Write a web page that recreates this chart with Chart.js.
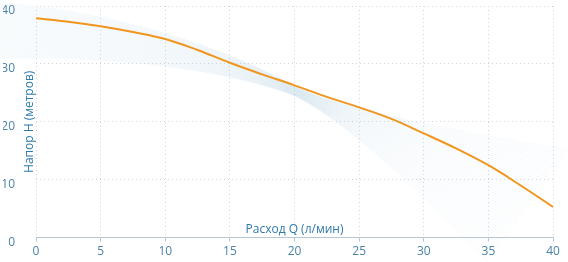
<!DOCTYPE html>
<html>
<head>
<meta charset="utf-8">
<script src="https://cdn.jsdelivr.net/npm/chart.js@4/dist/chart.umd.min.js"></script>
<style>
  html, body { margin: 0; padding: 0; background: #fff; }
  #wrap { width: 568px; height: 262px; }
</style>
</head>
<body>
<div id="wrap"><canvas id="pump-chart"></canvas></div>
<script>
// flow Q (l/min) and head H (m)
const flowQ = [0, 2.5, 5, 7.5, 10, 12.5, 15, 17.5, 20, 22.5, 25, 27.5, 30, 32.5, 35, 37.5, 40];
const headH = [37.9, 37.3, 36.5, 35.5, 34.3, 32.4, 30.2, 28.2, 26.3, 24.3, 22.5, 20.5, 18.0, 15.4, 12.5, 9.0, 5.3];
const xTicks = [0, 5, 10, 15, 20, 25, 30, 35, 40];
const yTicks = [0, 10, 20, 30, 40];

const xTitle = 'Расход Q (л/мин)';
const yTitle = 'Напор H (метров)';

const tickColor = '#4a82a8';
const titleColor = '#2f7bab';
const gridColor = '#d2d6da';
const axisColor = '#b9c7d2';
const fontFamily = '"Open Sans", "DejaVu Sans", sans-serif';

document.addEventListener('DOMContentLoaded', () => {
    const ctx = document.getElementById('pump-chart').getContext('2d');

    // light blue swoosh behind the plot, plus both axis titles
    const decor = {
        id: 'decor',
        beforeDatasetsDraw(chart) {
            const c = chart.ctx;
            const n = 50;
            c.save();
            c.strokeStyle = 'rgba(140, 178, 212, 0.07)';
            c.lineWidth = 1;
            for (let i = 0; i < n; i++) {
                const t = i / (n - 1);
                const lerp = (a, b) => a + (b - a) * t;
                const wy = lerp(84, 94);
                c.beginPath();
                c.moveTo(0, lerp(3, 58));
                c.bezierCurveTo(120, lerp(12, 56), 225, lerp(48, 70), 290, wy);
                c.bezierCurveTo(335, lerp(108, 112), lerp(450, 420), lerp(130, 190), lerp(568, 488), lerp(150, 262));
                c.stroke();
            }
            c.restore();
        },
        afterDraw(chart) {
            const c = chart.ctx;
            const area = chart.chartArea;
            c.save();
            c.fillStyle = titleColor;
            c.font = '12px ' + fontFamily;
            c.textAlign = 'center';
            c.textBaseline = 'middle';
            c.fillText(xTitle, (area.left + area.right) / 2, area.bottom - 8);
            c.translate(area.left - 6, (area.top + area.bottom) / 2);
            c.rotate(-Math.PI / 2);
            c.fillText(yTitle, 0, 0);
            c.restore();
        }
    };

    new Chart(ctx, {
        type: 'line',
        data: {
            datasets: [{
                data: flowQ.map((q, i) => ({ x: q, y: headH[i] })),
                borderColor: '#f0951e',
                borderWidth: 2,
                pointRadius: 0,
                tension: 0.4,
                fill: false
            }]
        },
        options: {
            responsive: true,
            maintainAspectRatio: false,
            animation: false,
            layout: { padding: { left: 3, right: 15, top: 6, bottom: 0 } },
            plugins: {
                legend: { display: false },
                tooltip: { enabled: false }
            },
            scales: {
                x: {
                    type: 'linear',
                    min: 0,
                    max: 40,
                    afterBuildTicks: axis => { axis.ticks = xTicks.map(v => ({ value: v })); },
                    ticks: { color: tickColor, font: { family: fontFamily, size: 12 }, padding: 3, maxRotation: 0 },
                    grid: {
                        color: gridColor,
                        drawTicks: true,
                        tickLength: 4,
                        tickColor: axisColor,
                        tickBorderDash: []
                    },
                    border: { display: true, color: axisColor, width: 1, dash: [1, 3] }
                },
                y: {
                    min: 0,
                    max: 40,
                    afterBuildTicks: axis => { axis.ticks = yTicks.map(v => ({ value: v })); },
                    afterFit: axis => {
                        axis.width = 33;
                        axis.paddingTop = 0;
                        axis.paddingBottom = 0;
                    },
                    ticks: { color: tickColor, font: { family: fontFamily, size: 12 }, padding: 21, labelOffset: 5 },
                    grid: { color: gridColor, drawTicks: false },
                    border: { display: false, dash: [1, 3] }
                }
            }
        },
        plugins: [decor]
    });
});
</script>
</body>
</html>
